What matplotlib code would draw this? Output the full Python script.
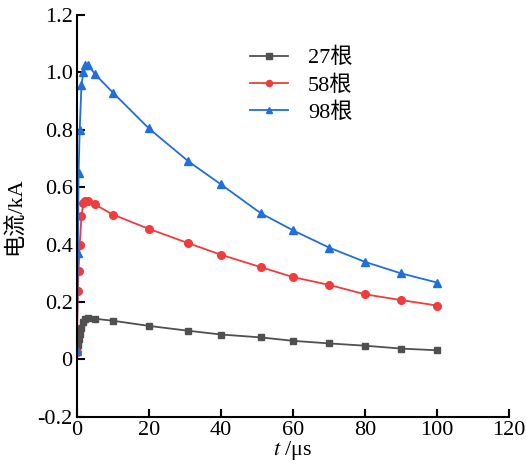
import matplotlib
matplotlib.use('Agg')
import matplotlib.pyplot as plt

plt.rcParams['font.family'] = ['Liberation Serif', 'Noto Sans CJK SC']
plt.rcParams['mathtext.fontset'] = 'stix'

# 时间 (μs)
t = [0, 0.3, 0.5, 0.8, 1.3, 1.8, 2.3, 3.2, 5, 10, 20, 31, 40, 51, 60, 70, 80, 90, 100]

# 电流 (kA)
i27 = [0.03, 0.05, 0.07, 0.09, 0.11, 0.13, 0.14, 0.145, 0.142, 0.135, 0.117, 0.100,
       0.087, 0.077, 0.065, 0.056, 0.048, 0.038, 0.032]
i58 = [0.025, 0.24, 0.31, 0.40, 0.50, 0.545, 0.552, 0.553, 0.54, 0.505, 0.455, 0.405,
       0.365, 0.322, 0.287, 0.26, 0.227, 0.207, 0.188]
i98 = [0.03, 0.37, 0.65, 0.80, 0.955, 1.0, 1.025, 1.025, 0.995, 0.93, 0.805, 0.69,
       0.61, 0.51, 0.45, 0.39, 0.34, 0.30, 0.268]

labels = ['27根', '58根', '98根']

fig = plt.figure(figsize=(5.26, 4.7), dpi=100)
ax = fig.add_axes([0.146, 0.113, 0.822, 0.855])

ax.plot(t, i27, color='#505050', marker='s', markersize=5, lw=1.3, label=labels[0])
ax.plot(t, i58, color='#f03c3c', marker='o', markersize=5.5, lw=1.3, label=labels[1])
ax.plot(t, i98, color='#1f6fdc', marker='^', markersize=6, lw=1.3, label=labels[2])

ax.set_xlim(0, 120)
ax.set_ylim(-0.2, 1.2)
ax.set_xticks(range(0, 121, 20))
ax.set_yticks([-0.2, 0, 0.2, 0.4, 0.6, 0.8, 1.0, 1.2])
ax.set_yticklabels(['-0.2', '0', '0.2', '0.4', '0.6', '0.8', '1.0', '1.2'])
ax.tick_params(direction='in', labelsize=16, length=6, width=1.5, pad=3)
ax.tick_params(axis='x', pad=3)

ax.spines['top'].set_visible(False)
ax.spines['right'].set_visible(False)
ax.spines['left'].set_linewidth(1.5)
ax.spines['bottom'].set_linewidth(1.5)

ax.set_xlabel('$t$ /μs', fontsize=16, labelpad=-1)
ax.set_ylabel('电流/kA', fontsize=16, labelpad=8)

ax.legend(loc='upper left', bbox_to_anchor=(0.355, 0.968), frameon=False,
          fontsize=16, handlelength=1.7, labelspacing=0.3, handletextpad=0.9,
          markerscale=0.8)

fig.savefig('out.png', dpi=100)
